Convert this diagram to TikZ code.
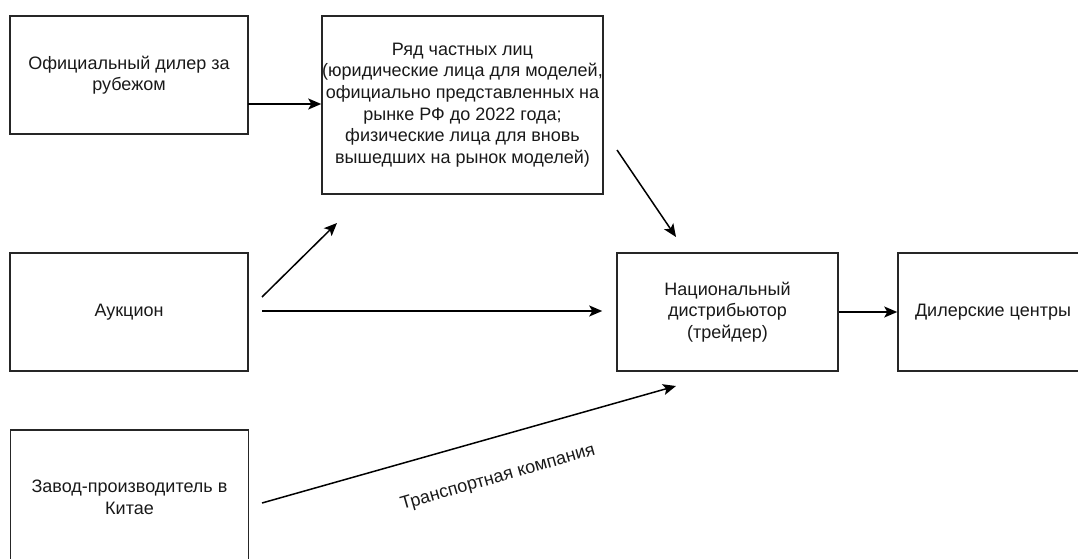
\documentclass[tikz,border=0pt]{standalone}
\usepackage{fontspec}
\setmainfont{Liberation Sans}
\usetikzlibrary{arrows.meta}

\begin{document}
\begin{tikzpicture}[
  x = 1pt,
  y = -1pt,
  box/.style = {
    draw = black!85,
    line width = 1.5pt,
    inner sep = 0pt,
    align = center,
    text = black!90,
    font = \fontsize{18}{21.6}\selectfont
  },
  arr/.style = {
    line width = 1.5pt,
    -{Stealth[length = 13pt, width = 11pt, inset = 3pt]}
  }
]
  \useasboundingbox (0, 0) rectangle (1078, 559);
  \clip (0, 0) rectangle (1078, 559);

  \draw node[box, minimum width = 238pt, minimum height = 118pt] (dealer) at (129, 75)
    {Официальный дилер за\\рубежом};
  \draw node[box, minimum width = 281pt, minimum height = 178pt] (private) at (462.5, 105)
    {Ряд частных лиц\\(юридические лица для моделей,\\официально представленных на\\рынке РФ до 2022 года;\\физические лица для вновь\\вышедших на рынок моделей)};
  \draw node[box, minimum width = 238pt, minimum height = 118pt] (auction) at (129, 312)
    {Аукцион};
  \draw node[box, minimum width = 238pt, minimum height = 135pt] (factory) at (129.5, 497.5)
    {Завод-производитель в\\Китае};
  \draw node[box, minimum width = 221pt, minimum height = 118pt] (distributor) at (727.5, 312)
    {Национальный\\дистрибьютор\\(трейдер)};
  \draw node[box, minimum width = 190pt, minimum height = 118pt] (centers) at (993, 312)
    {Дилерские центры};

  \coordinate (D1) at (248, 104);
  \coordinate (A1) at (262, 297);
  \coordinate (A2) at (337, 223);
  \coordinate (A3) at (262, 311);
  \coordinate (P1) at (617, 150);
  \coordinate (N1) at (676, 237);
  \coordinate (F1) at (262, 503);
  \coordinate (N2) at (676, 386);

  \draw[arr] (D1) -- (private.west |- D1);
  \draw[arr] (A1) -- (A2);
  \draw[arr] (A3) -- ([xshift = -14pt] distributor.west |- A3);
  \draw[arr] (P1) -- (N1);
  \draw[arr] (distributor.east) -- (centers.west);
  \draw[arr] (F1) -- (N2);
  \draw node[rotate = 16, text = black!90, font = \fontsize{18}{21.6}\selectfont] (transport) at (498, 478)
    {Транспортная компания};
\end{tikzpicture}
\end{document}
